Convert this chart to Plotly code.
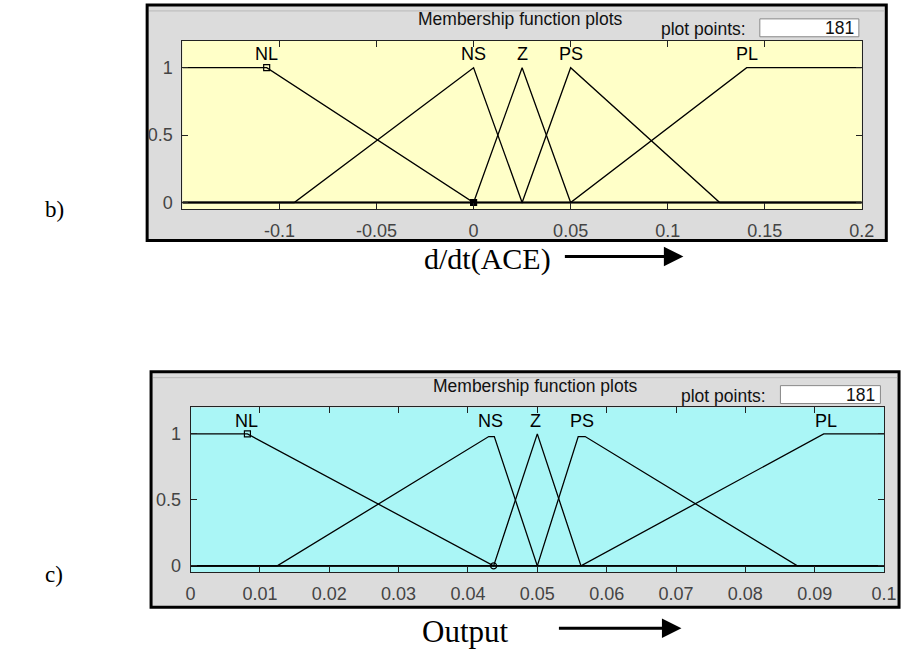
import plotly.graph_objects as go

# ---------------- data ----------------
mf_names = ["NL", "NS", "Z", "PS", "PL"]

# b) d/dt(ACE) membership functions (vertices over full range)
ace_range = [-0.15, 0.2]
ace_NL_x = [-0.15, -0.1066, 0.0, 0.2]
ace_NL_y = [1, 1, 0, 0]
ace_NS_x = [-0.15, -0.0924, 0.0, 0.025, 0.2]
ace_NS_y = [0, 0, 1, 0, 0]
ace_Z_x = [-0.15, 0.0, 0.025, 0.05, 0.2]
ace_Z_y = [0, 0, 1, 0, 0]
ace_PS_x = [-0.15, 0.025, 0.05, 0.1268, 0.2]
ace_PS_y = [0, 0, 1, 0, 0]
ace_PL_x = [-0.15, 0.05, 0.1407, 0.2]
ace_PL_y = [0, 0, 1, 1]
ace_label_x = [-0.1066, 0.0, 0.025, 0.05, 0.1407]
ace_marker_x = [-0.1066, 0.0]
ace_marker_y = [1, 0]
ace_tickvals = [-0.1, -0.05, 0, 0.05, 0.1, 0.15, 0.2]
ace_ticktext = ["-0.1", "-0.05", "0", "0.05", "0.1", "0.15", "0.2"]

# c) Output membership functions
out_range = [0.0, 0.1]
out_NL_x = [0.0, 0.0082, 0.0437, 0.1]
out_NL_y = [1, 1, 0, 0]
out_NS_x = [0.0, 0.0125, 0.0430, 0.0438, 0.0500, 0.1]
out_NS_y = [0, 0, 0.98, 0.98, 0, 0]
out_Z_x = [0.0, 0.0437, 0.05, 0.0563, 0.1]
out_Z_y = [0, 0, 1, 0, 0]
out_PS_x = [0.0, 0.05, 0.0559, 0.0569, 0.0875, 0.1]
out_PS_y = [0, 0, 0.98, 0.98, 0, 0]
out_PL_x = [0.0, 0.0563, 0.0913, 0.1]
out_PL_y = [0, 0, 1, 1]
out_label_x = [0.0080, 0.0432, 0.0497, 0.0564, 0.0917]
out_marker_x = [0.0082, 0.0437]
out_marker_y = [1, 0]
out_tickvals = [0, 0.01, 0.02, 0.03, 0.04, 0.05, 0.06, 0.07, 0.08, 0.09, 0.1]
out_ticktext = ["0", "0.01", "0.02", "0.03", "0.04", "0.05", "0.06", "0.07", "0.08", "0.09", "0.1"]

y_range = [-0.05, 1.2]
y_tickvals = [0, 0.5, 1]
y_ticktext = ["0", "0.5", "1"]
label_y = 1.1
plot_points = "181"

# ---------------- layout helpers ----------------
W, H = 914, 655
def px(x):
    return x / W
def py(y):
    return 1 - y / H

SANS = "Liberation Sans, Arial, sans-serif"
SERIF = "Liberation Serif, Times New Roman, serif"

fig = go.Figure()

ace_sets = [(ace_NL_x, ace_NL_y), (ace_NS_x, ace_NS_y), (ace_Z_x, ace_Z_y),
            (ace_PS_x, ace_PS_y), (ace_PL_x, ace_PL_y)]
out_sets = [(out_NL_x, out_NL_y), (out_NS_x, out_NS_y), (out_Z_x, out_Z_y),
            (out_PS_x, out_PS_y), (out_PL_x, out_PL_y)]

for name, (xs, ys) in zip(mf_names, ace_sets):
    fig.add_trace(go.Scatter(x=xs, y=ys, mode="lines", name=name,
                             line=dict(color="black", width=1.3),
                             xaxis="x", yaxis="y", showlegend=False, hoverinfo="skip"))
fig.add_trace(go.Scatter(x=ace_marker_x, y=ace_marker_y, mode="markers",
                         marker=dict(symbol=["square-open", "square"], size=6, color="black",
                                     line=dict(width=1.2, color="black")),
                         xaxis="x", yaxis="y", showlegend=False, hoverinfo="skip"))

for name, (xs, ys) in zip(mf_names, out_sets):
    fig.add_trace(go.Scatter(x=xs, y=ys, mode="lines", name=name,
                             line=dict(color="black", width=1.3),
                             xaxis="x2", yaxis="y2", showlegend=False, hoverinfo="skip"))
fig.add_trace(go.Scatter(x=out_marker_x, y=out_marker_y, mode="markers",
                         marker=dict(symbol=["square-open", "circle-open"], size=6, color="black",
                                     line=dict(width=1.2, color="black")),
                         xaxis="x2", yaxis="y2", showlegend=False, hoverinfo="skip"))

axis_common = dict(ticks="inside", ticklen=6, tickcolor="#222", mirror="ticks",
                   showline=True, linecolor="#222", linewidth=1, showgrid=False,
                   zeroline=False, fixedrange=True,
                   tickfont=dict(family=SANS, size=18, color="#444"))

fig.update_layout(
    width=W, height=H, margin=dict(l=0, r=0, t=0, b=0),
    paper_bgcolor="white", plot_bgcolor="rgba(0,0,0,0)",
    xaxis=dict(domain=[px(181), px(874)], range=ace_range, anchor="y",
               tickmode="array", tickvals=ace_tickvals, ticktext=ace_ticktext,
               ticklabelstandoff=5, **axis_common),
    yaxis=dict(domain=[py(210.5), py(41)], range=y_range, anchor="x",
               tickmode="array", tickvals=y_tickvals, ticktext=y_ticktext,
               ticklabelstandoff=5, **axis_common),
    xaxis2=dict(domain=[px(189.3), px(896.7)], range=out_range, anchor="y2",
                tickmode="array", tickvals=out_tickvals, ticktext=out_ticktext,
                ticklabelstandoff=5, **axis_common),
    yaxis2=dict(domain=[py(576), py(410)], range=y_range, anchor="x2",
                tickmode="array", tickvals=y_tickvals, ticktext=y_ticktext,
                ticklabelstandoff=5, **axis_common),
)

shapes = []
# panel backgrounds
for (x0, y0, x1, y1) in [(145, 5, 899, 242), (149, 374, 912, 611)]:
    shapes.append(dict(type="rect", xref="paper", yref="paper", layer="below",
                       x0=px(x0), x1=px(x1), y0=py(y1), y1=py(y0),
                       fillcolor="#dcdcdc", line=dict(color="black", width=3)))
    shapes.append(dict(type="line", xref="paper", yref="paper", layer="below",
                       x0=px(x0 + 2), x1=px(x1 - 2), y0=py(y0 + 6), y1=py(y0 + 6),
                       line=dict(color="#b8b8b8", width=1)))
# plot-area fills
shapes.append(dict(type="rect", xref="x domain", yref="y domain", layer="below",
                   x0=0, x1=1, y0=0, y1=1, fillcolor="#ffffc8", line=dict(width=0)))
shapes.append(dict(type="rect", xref="x2 domain", yref="y2 domain", layer="below",
                   x0=0, x1=1, y0=0, y1=1, fillcolor="#aaf6f6", line=dict(width=0)))
# plot-points boxes
for (x0, y0, x1, y1) in [(770, 19, 871, 37), (791, 388, 893, 406)]:
    shapes.append(dict(type="rect", xref="paper", yref="paper", layer="below",
                       x0=px(x0), x1=px(x1), y0=py(y1), y1=py(y0),
                       fillcolor="white", line=dict(color="#888", width=1)))
fig.update_layout(shapes=shapes)

ann = []
def text(x, y, s, size, family=SANS, color="black", xanchor="center", xref="paper", yref="paper"):
    ann.append(dict(x=x, y=y, xref=xref, yref=yref, text=s, showarrow=False,
                    xanchor=xanchor, yanchor="middle",
                    font=dict(family=family, size=size, color=color)))

# MF labels
for name, lx in zip(mf_names, ace_label_x):
    text(lx, label_y, name, 18, xref="x", yref="y")
for name, lx in zip(mf_names, out_label_x):
    text(lx, label_y, name, 18, xref="x2", yref="y2")
# panel titles & plot points
for (tx, ty, lx, ly, bx, by) in [(526, 19, 758, 29, 868, 28), (541, 388, 778, 398, 890, 397)]:
    text(px(tx), py(ty), "Membership function plots", 17.5, color="#111")
    text(px(lx), py(ly), "plot points:", 17.5, color="#111", xanchor="right")
    text(px(bx), py(by), plot_points, 17.5, color="#111", xanchor="right")
# outer labels
text(px(50), py(211), "b)", 23, family=SERIF)
text(px(50), py(578), "c)", 23, family=SERIF)
text(px(492), py(261), "d/dt(ACE)", 30, family=SERIF)
text(px(470), py(635), "Output", 31, family=SERIF)
# arrows
for (x0, x1, yy) in [(572, 692, 258), (566, 690, 632)]:
    ann.append(dict(x=px(x1), y=py(yy), xref="paper", yref="paper",
                    ax=x0 - x1, ay=0, axref="pixel", ayref="pixel",
                    showarrow=True, arrowhead=2, arrowsize=1.3, arrowwidth=3,
                    arrowcolor="black", text=""))
fig.update_layout(annotations=ann)

fig.write_html("out.html")
